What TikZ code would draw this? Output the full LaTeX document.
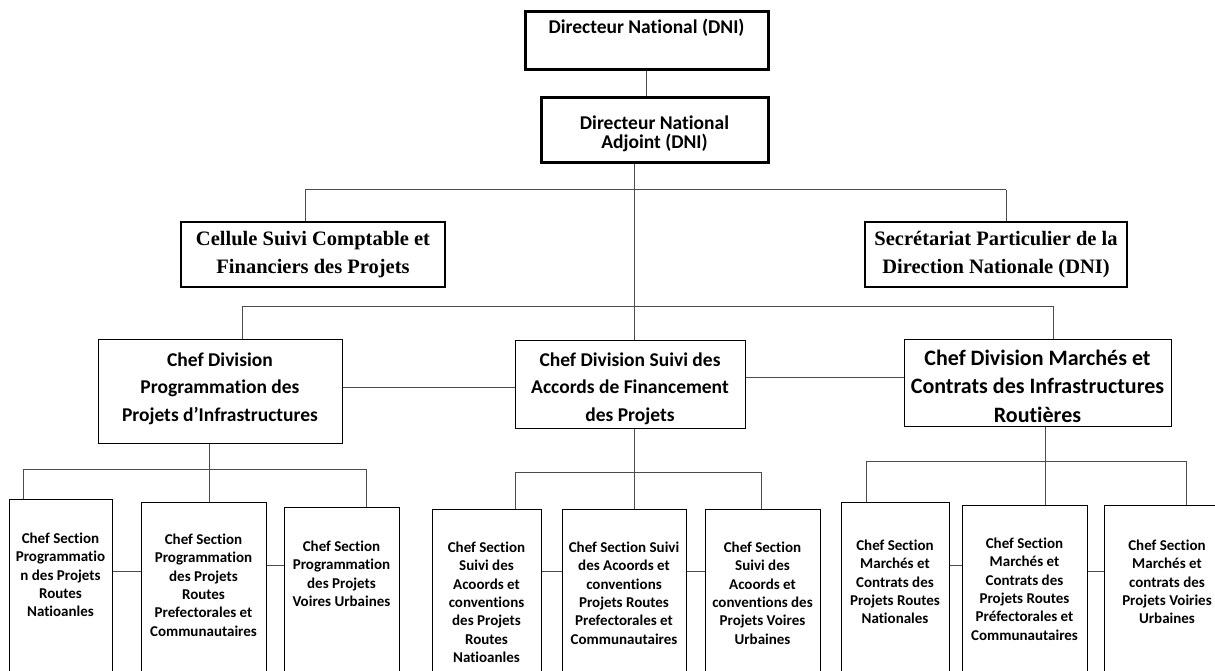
\documentclass[tikz,border=0pt]{standalone}
\usepackage{fontspec}
\setmainfont{Carlito}[Ligatures=NoCommon]
\newfontfamily\serifbold{Liberation Serif}
\usetikzlibrary{positioning,calc}

\begin{document}
\begin{tikzpicture}[
    x=1pt, y=-1pt,
    topbox/.style={rectangle, draw, line width=3pt, inner xsep=2pt, inner ysep=0pt, align=flush center, font=\bfseries\fontsize{19.5}{19.3}\selectfont},
    cambox/.style={rectangle, draw, line width=2.6pt, inner sep=0pt, align=center, font=\serifbold\bfseries\fontsize{20.5}{28}\selectfont},
    divbox/.style={rectangle, draw, line width=1pt, inner xsep=1pt, inner ysep=0pt, align=flush center, font=\bfseries\fontsize{19.5}{27.5}\selectfont},
    secbox/.style={rectangle, draw, line width=1pt, anchor=north, inner xsep=1pt, inner ysep=0pt, align=flush center, text depth=260pt, font=\bfseries\fontsize{15}{18.3}\selectfont},
    link/.style={draw=black!70, line width=1pt}
]
\useasboundingbox (0,0) rectangle (1215,671);
\clip (0,0) rectangle (1215,671);

% Direction
\node[topbox, text width=239pt, text height=21.5pt, text depth=36.5pt] (dn) at (646.5,41) {Directeur National (DNI)};
\node[topbox, text width=223pt, text height=31.3pt, text depth=33.7pt] (dna) at (654.5,130.5) {Directeur National\\Adjoint (DNI)};

% Cellule and Secretariat
\node[cambox, minimum width=264pt, minimum height=65pt] (cell) at (313,254.5) {Cellule Suivi Comptable et\\Financiers des Projets};
\node[cambox, minimum width=262pt, minimum height=65pt] (secr) at (996,254.5) {Secrétariat Particulier de la\\Direction Nationale (DNI)};

% Divisions
\node[divbox, text width=242pt, text height=27.3pt, text depth=76.7pt] (div1) at (220,391) {Chef Division\\Programmation des\\Projets d’Infrastructures};
\node[divbox, text width=228pt, text height=26.3pt, text depth=61.7pt] (div2) at (630,384) {Chef Division Suivi des\\Accords de Financement\\des Projets};
\node[divbox, text width=265pt, text height=26pt, text depth=61pt, font=\bfseries\fontsize{22}{28.5}\selectfont] (div3) at (1037.5,382.5) {Chef Division Marchés et\\Contrats des Infrastructures\\Routières};

% Sections of the first division
\node[secbox, text width=101pt, text height=44pt] (s11) at (60.5,499) {Chef Section\\Programmatio\\n des Projets\\Routes\\Natioanles};
\node[secbox, text width=123pt, text height=42pt] (s12) at (203.5,502) {Chef Section\\Programmation\\des Projets\\Routes\\Prefectorales et\\Communautaires};
\node[secbox, text width=113pt, text height=44pt] (s13) at (341.5,507) {Chef Section\\Programmation\\des Projets\\Voires Urbaines};

% Sections of the second division
\node[secbox, text width=107pt, text height=43pt] (s21) at (486.5,509) {Chef Section\\Suivi des\\Acoords et\\conventions\\des Projets\\Routes\\Natioanles};
\node[secbox, text width=122pt, text height=43pt] (s22) at (624,509) {Chef Section Suivi\\des Acoords et\\conventions\\Projets Routes\\Prefectorales et\\Communautaires};
\node[secbox, text width=113pt, text height=43pt] (s23) at (762.5,509) {Chef Section\\Suivi des\\Acoords et\\conventions des\\Projets Voires\\Urbaines};

% Sections of the third division
\node[secbox, text width=106pt, text height=48pt] (s31) at (895,502) {Chef Section\\Marchés et\\Contrats des\\Projets Routes\\Nationales};
\node[secbox, text width=123pt, text height=43pt] (s32) at (1024.5,505) {Chef Section\\Marchés et\\Contrats des\\Projets Routes\\Préfectorales et\\Communautaires};
\node[secbox, text width=124pt, text height=45pt] (s33) at (1167,505) {Chef Section\\Marchés et\\contrats des\\Projets Voiries\\Urbaines};

% Junctions
\coordinate (t1) at (634,190);
\coordinate (t2) at (634,306);
\coordinate (l1) at (305,190);
\coordinate (r1) at (1006,190);
\coordinate (l2) at (242,306);
\coordinate (r2) at (1053,306);
\coordinate (g1) at (209,469);
\coordinate (g1l) at (23,469);
\coordinate (g1r) at (366,469);
\coordinate (g2) at (634,472);
\coordinate (g2l) at (515,472);
\coordinate (g2r) at (761,472);
\coordinate (g3) at (1045,461);
\coordinate (g3l) at (866,461);
\coordinate (g3r) at (1186,461);

% Top links
\draw[link] (dn.south) -- (dn.south |- dna.north);
\draw[link] (dna.south -| t1) -- (t1 |- div2.north);
\draw[link] (l1) -- (r1);
\draw[link] (l1) -- (l1 |- cell.north);
\draw[link] (r1) -- (r1 |- secr.north);
\draw[link] (l2) -- (r2);
\draw[link] (l2) -- (l2 |- div1.north);
\draw[link] (r2) -- (r2 |- div3.north);
\draw[link] (div1.east |- 0,387) -- (div2.west |- 0,387);
\draw[link] (div2.east |- 0,377) -- (div3.west |- 0,377);

% Links of the first division
\draw[link] (div1.south -| g1) -- (g1);
\draw[link] (g1l) -- (g1r);
\draw[link] (g1l) -- (g1l |- s11.north);
\draw[link] (g1) -- (g1 |- s12.north);
\draw[link] (g1r) -- (g1r |- s13.north);
\draw[link] (s11.east |- 0,571) -- (s12.west |- 0,571);
\draw[link] (s12.east |- 0,565) -- (s13.west |- 0,565);

% Links of the second division
\draw[link] (div2.south -| g2) -- (g2);
\draw[link] (g2l) -- (g2r);
\draw[link] (g2l) -- (g2l |- s21.north);
\draw[link] (g2) -- (g2 |- s22.north);
\draw[link] (g2r) -- (g2r |- s23.north);
\draw[link] (s21.east |- 0,571) -- (s22.west |- 0,571);
\draw[link] (s22.east |- 0,571) -- (s23.west |- 0,571);

% Links of the third division
\draw[link] (div3.south -| g3) -- (g3);
\draw[link] (g3l) -- (g3r);
\draw[link] (g3l) -- (g3l |- s31.north);
\draw[link] (g3) -- (g3 |- s32.north);
\draw[link] (g3r) -- (g3r |- s33.north);
\draw[link] (s31.east |- 0,565) -- (s32.west |- 0,565);
\draw[link] (s32.east |- 0,571) -- (s33.west |- 0,571);

\end{tikzpicture}
\end{document}
